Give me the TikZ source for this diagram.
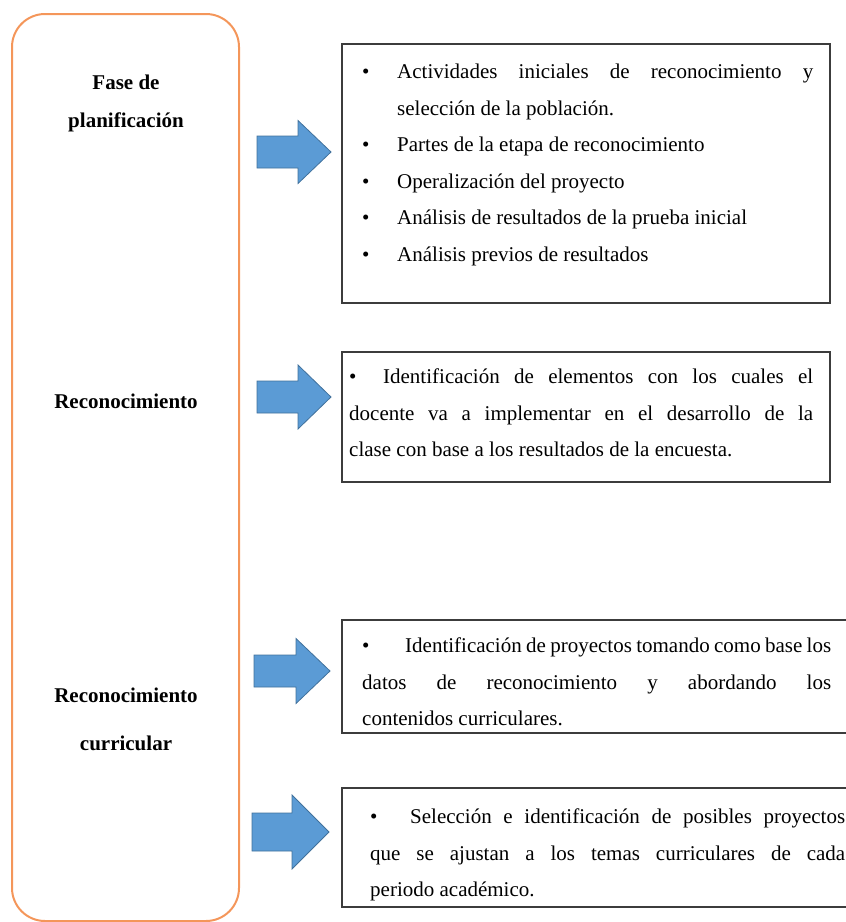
\documentclass[tikz,border=0pt]{standalone}
\usepackage{fontspec}
\setmainfont{Liberation Serif}
\definecolor{arrowfill}{RGB}{91,155,213}
\definecolor{arrowedge}{RGB}{65,113,156}
\definecolor{frameorange}{RGB}{244,150,90}
\definecolor{boxedge}{RGB}{60,60,60}
\newcommand{\blockarrow}[6]{% xbody, xhead, xtip, yc, body half height, head half height
  \draw[blockarrow] (#1,{#4-#5}) -- (#2,{#4-#5}) -- (#2,{#4-#6}) -- (#3,#4)
    -- (#2,{#4+#6}) -- (#2,{#4+#5}) -- (#1,{#4+#5}) -- cycle;}
\newcommand{\bulletitem}[2]{\par\noindent\hyphenpenalty=10000\relax\exhyphenpenalty=10000\relax\tolerance=9999\relax
  \hangindent=#1pt\relax\hangafter=1\relax\makebox[#1pt][l]{\textbullet}#2}
\tikzset{
  blockarrow/.style={fill=arrowfill, draw=arrowedge, line width=0.8pt, line join=miter},
  textbox/.style={draw=boxedge, line width=1.6pt},
  phasebox/.style={draw=frameorange, line width=2pt, rounded corners=33pt},
  listtext/.style={anchor=base west, inner sep=0pt, align=justify, yshift=29pt,
    font=\fontsize{21}{36.5}\selectfont},
  phaselabel/.style={anchor=base, inner sep=0pt, font=\fontsize{21}{25}\selectfont\bfseries}
}
\begin{document}
\begin{tikzpicture}[x=1pt,y=-1pt]
\useasboundingbox (0,0) rectangle (846,922);
\clip (0,0) rectangle (846,922);
% left rounded frame
\draw[phasebox] (12,14) rectangle (239,921);
\node[phaselabel] (l1a) at (126,89) {Fase de};
\node[phaselabel] (l1b) at (126,127) {planificación};
\node[phaselabel] (l2) at (126,408) {Reconocimiento};
\node[phaselabel] (l3a) at (126,702) {Reconocimiento};
\node[phaselabel] (l3b) at (126,750) {curricular};
% arrows
\blockarrow{257}{298}{331}{152}{16}{31.5}
\blockarrow{257}{298}{331}{397}{16}{32}
\blockarrow{254}{296}{330}{671}{16}{32.5}
\blockarrow{252}{292}{329}{832}{19}{37}
% boxes
\draw[textbox] (342,44) rectangle (830,303);
\draw[textbox] (342,352) rectangle (830,482);
\draw[textbox] (342,620) rectangle (860,733);
\draw[textbox] (342,788) rectangle (860,907);
% texts
\node[listtext, text width=451pt] (t1) at (362,71) {%
\bulletitem{35}{Actividades iniciales de reconocimiento y\linebreak selección de la población.}
\bulletitem{35}{Partes de la etapa de reconocimiento}
\bulletitem{35}{Operalización del proyecto}
\bulletitem{35}{Análisis de resultados de la prueba inicial}
\bulletitem{35}{Análisis previos de resultados}};
\node[listtext, text width=464pt] (t2) at (349,376) {%
\bulletitem{34}{Identificación de elementos con los cuales el\linebreak docente va a implementar en el desarrollo de la\linebreak clase con base a los resultados de la encuesta.}};
\node[listtext, text width=469pt] (t3) at (362,645) {%
\bulletitem{43}{Identificación de proyectos tomando como base los\linebreak datos de reconocimiento y abordando los\linebreak contenidos curriculares.}};
\node[listtext, text width=475pt] (t4) at (370,816) {%
\bulletitem{40}{Selección e identificación de posibles proyectos\linebreak que se ajustan a los temas curriculares de cada\linebreak periodo académico.}};
\end{tikzpicture}
\end{document}
